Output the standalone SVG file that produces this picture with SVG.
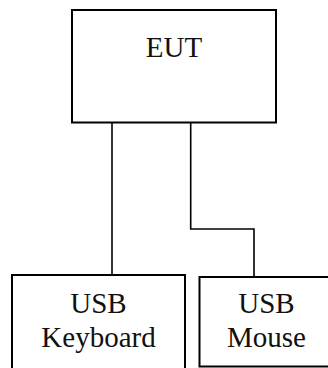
<svg xmlns="http://www.w3.org/2000/svg" width="328" height="368" viewBox="0 0 328 368">
<style>
.box{fill:#fff;stroke:#000;stroke-width:2}
.con{fill:none;stroke:#000;stroke-width:1.6}
text{font-family:"Liberation Serif","Times New Roman",serif;font-size:29px;fill:#111;text-anchor:middle}
</style>
<rect width="328" height="368" fill="#fff"/>
<g id="connectors">
<path class="con" d="M112 123 V275"/>
<path class="con" d="M190.7 123 V229 H254 V277"/>
</g>
<g id="eut">
<rect class="box" x="72" y="10" width="204" height="112.5"/>
<text x="174" y="56.5">EUT</text>
</g>
<g id="keyboard">
<rect class="box" x="12" y="275" width="173" height="100"/>
<text x="98.5" y="313">USB</text>
<text x="98.5" y="347">Keyboard</text>
</g>
<g id="mouse">
<rect class="box" x="199.5" y="277" width="140" height="89.5"/>
<text x="266.5" y="313">USB</text>
<text x="266.5" y="347">Mouse</text>
</g>
</svg>
